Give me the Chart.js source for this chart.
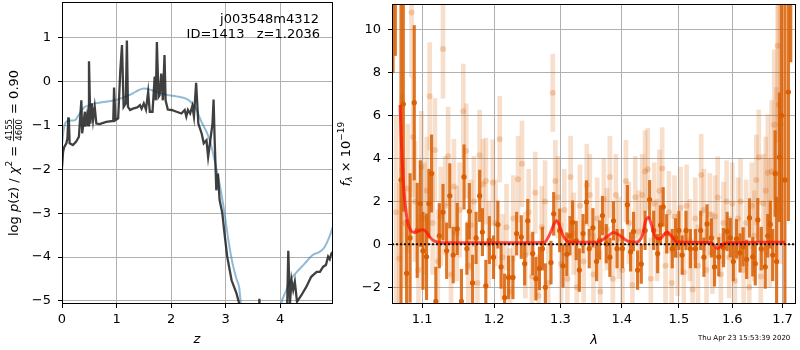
<!DOCTYPE html>
<html>
<head>
<meta charset="utf-8">
<script src="https://cdn.jsdelivr.net/npm/chart.js@4.4.1/dist/chart.umd.min.js"></script>
<style>
  html, body { margin: 0; padding: 0; background: #fff; }
  #wrap { position: relative; width: 800px; height: 350px; overflow: hidden; }
  #pzChart { position: absolute; left: 0; top: 0; }
  #specChart { position: absolute; left: 335px; top: 0; }
</style>
</head>
<body>
<div id="wrap">
  <canvas id="pzChart" width="335" height="350"></canvas>
  <canvas id="specChart" width="465" height="350"></canvas>
</div>
<script>
// ---- left panel: log p(z) and chi2 curve ----
const zTicks = [0, 1, 2, 3, 4];
const pzTicks = [-5, -4, -3, -2, -1, 0, 1];
const zRange = [0, 4.97];
const pzRange = [-5.07, 1.81];

const pzZ = [0.00, 0.02, 0.04, 0.08, 0.10, 0.115, 0.125, 0.14, 0.20, 0.26, 0.31, 0.355, 0.37, 0.42, 0.43, 0.46, 0.48, 0.495,
  0.52, 0.545, 0.57, 0.60, 0.63, 0.69, 0.81, 0.94, 0.955, 0.98, 1.03, 1.07, 1.10, 1.13, 1.17, 1.19, 1.21, 1.25, 1.30, 1.38,
  1.43, 1.46, 1.50, 1.54, 1.58, 1.61, 1.66, 1.70, 1.72, 1.74, 1.77, 1.79, 1.82, 1.85, 1.88, 1.90, 1.94, 2.01, 2.10, 2.19,
  2.25, 2.28, 2.31, 2.35, 2.39, 2.42, 2.46, 2.50, 2.56, 2.60, 2.65, 2.68, 2.72, 2.76, 2.78, 2.80, 2.83, 2.86, 2.89, 2.94,
  2.98, 3.03, 3.11, 3.20, 3.25, 3.30, 3.60, 3.62, 3.64, 4.10, 4.13, 4.15, 4.18, 4.21, 4.24, 4.27, 4.31, 4.39, 4.48, 4.57,
  4.67, 4.73, 4.79, 4.84, 4.88, 4.91, 4.94, 4.97];
const pzLog = [-1.95, -1.60, -1.50, -1.41, -1.30, -0.84, -0.82, -1.41, -1.45, -1.37, -1.26, -0.43, -1.18, -0.69, -1.03, -0.77, -1.00, 0.46,
  -0.96, -0.50, -0.88, -0.58, -0.96, -0.97, -0.92, -0.90, -0.14, -0.88, -0.84, 0.26, 0.83, -0.58, -0.50, 0.93, -0.58, -0.65, -0.62, -0.59,
  -0.54, -0.62, -0.50, -0.64, -0.24, -0.69, -0.69, 0.11, -0.43, 0.90, -0.35, -0.31, 0.18, -0.43, 0.60, -0.43, -0.64, -0.65, -0.69, -0.73,
  -0.65, -0.80, -0.65, -0.73, -0.56, -0.80, -0.03, -0.96, -1.18, -1.41, -1.34, -1.72, -1.34, -0.96, -0.41, -1.34, -2.48, -2.10, -2.70, -3.00,
  -3.46, -3.99, -4.53, -4.83, -5.06, -5.60, -5.60, -4.95, -5.60, -5.60, -5.10, -3.86, -5.06, -4.53, -4.75, -4.56, -5.02, -4.87, -4.68, -4.45,
  -4.34, -4.34, -4.22, -4.18, -3.99, -4.05, -3.92, -3.88];

const chiZ = [0.00, 0.03, 0.06, 0.10, 0.20, 0.25, 0.30, 0.40, 0.50, 0.60, 0.80, 1.00, 1.20, 1.30, 1.40, 1.50, 1.60, 1.70, 1.90,
  2.10, 2.25, 2.35, 2.45, 2.55, 2.70, 2.80, 2.90, 2.98, 3.05, 3.12, 3.20, 3.25, 3.29, 3.35, 3.95, 4.02, 4.10, 4.20, 4.30,
  4.45, 4.60, 4.70, 4.80, 4.90, 4.97];
const chiLog = [-1.45, -1.10, -0.95, -0.90, -0.89, -0.87, -0.78, -0.60, -0.54, -0.50, -0.46, -0.42, -0.33, -0.27, -0.20, -0.16, -0.18, -0.22, -0.30,
  -0.34, -0.38, -0.45, -0.60, -0.90, -1.30, -1.80, -2.40, -3.00, -3.60, -4.10, -4.50, -4.70, -5.20, -5.80, -5.80, -5.07, -4.80, -4.50, -4.35,
  -4.15, -3.95, -3.90, -3.80, -3.55, -3.30];

// ---- right panel: spectrum ----
const waveTicks = [1.1, 1.2, 1.3, 1.4, 1.5, 1.6, 1.7];
const fluxTicks = [-2, 0, 2, 4, 6, 8, 10];
const waveRange = [1.0606, 1.728];
const fluxRange = [-2.78, 11.2];

const darkWave = [1.0619, 1.0649, 1.0722, 1.0752, 1.0795, 1.0840, 1.0895, 1.0934, 1.0975, 1.1010, 1.1058, 1.1090, 1.1125, 1.1183,
  1.1230, 1.1280, 1.1330, 1.1373, 1.1420, 1.1475, 1.1534, 1.1570, 1.1610, 1.1645, 1.1690, 1.1740, 1.1791, 1.1830, 1.1879, 1.1930,
  1.1990, 1.2054, 1.2100, 1.2152, 1.2210, 1.2275, 1.2330, 1.2399, 1.2450, 1.2497, 1.2572, 1.2620, 1.2674, 1.2720, 1.2765, 1.2852,
  1.2894, 1.2988, 1.3040, 1.3100, 1.3150, 1.3192, 1.3250, 1.3300, 1.3360, 1.3416, 1.3460, 1.3520, 1.3580, 1.3630, 1.3677, 1.3740,
  1.3800, 1.3860, 1.3920, 1.4010, 1.4095, 1.4150, 1.4200, 1.4270, 1.4334, 1.4400, 1.4479, 1.4550, 1.4620, 1.4670, 1.4718, 1.4780,
  1.4880, 1.4940, 1.5000, 1.5060, 1.5130, 1.5210, 1.5304, 1.5400, 1.5460, 1.5519, 1.5600, 1.5660, 1.5740, 1.5830, 1.5900, 1.5961,
  1.6020, 1.6080, 1.6150, 1.6210, 1.6280, 1.6336, 1.6400, 1.6450, 1.6501, 1.6570, 1.6650, 1.6700, 1.6751, 1.6800, 1.6850, 1.6880,
  1.6938, 1.6980, 1.7050, 1.7122, 1.7170];
const darkFlux = [13.0, 14.0, 3.0, 6.54, -1.35, 0.3, 6.6, 0.65, 1.9, -0.3, -0.58, 1.9, 3.3, -2.66,
  0.4, 1.5, -0.3, 2.26, -0.5, 0.72, -2.66, 3.14, -0.2, 1.54, -1.8, 0.3, 2.26, 0.57, -1.94, 0.2,
  -0.6, 0.92, -1.05, -2.48, -1.54, -1.54, 0.5, 0.34, -0.9, 1.1, -0.43, -1.6, -1.12, -0.2, -2.0, -0.85,
  1.42, 0.65, -1.0, -0.46, 0.4, 1.03, 0.18, -1.2, 0.5, 1.97, -0.2, 0.77, -0.8, 0.2, 1.34, 0.03,
  -0.6, 1.1, -0.2, -0.2, 1.85, -0.35, 0.6, -1.2, -0.92, 0.65, 2.08, 0.65, -0.43, 0.9, 1.75, 0.49,
  -0.2, 0.3, 0.65, -0.5, 0.65, -0.2, -0.2, 0.65, -0.6, 0.95, 0.3, -1.05, -0.58, -0.15, 0.6, 0.31,
  -0.8, 0.26, -0.4, -0.12, -0.7, 1.23, -0.58, -0.9, 1.14, -0.2, -1.05, 0.4, 0.92, -0.5, 3.3, -0.8,
  4.06, 6.0, 3.0, 7.1, 14.0];
const darkErr = [5.0, 5.2, 9.0, 5.0, 2.5, 3.0, 3.6, 2.2, 2.0, 1.8, 2.0, 1.6, 1.8, 1.6,
  1.5, 1.3, 1.3, 1.5, 1.3, 1.2, 1.5, 1.5, 1.2, 1.3, 1.3, 1.2, 1.2, 1.1, 1.2, 1.1,
  1.0, 1.1, 1.0, 1.1, 1.0, 1.0, 1.0, 1.0, 1.0, 1.0, 1.0, 1.0, 1.0, 1.0, 1.1, 1.0,
  1.0, 1.0, 1.0, 1.0, 0.9, 1.0, 0.9, 1.0, 0.9, 1.0, 0.9, 0.9, 0.9, 0.9, 0.9, 0.9,
  0.9, 0.9, 0.9, 0.9, 0.9, 0.9, 0.9, 0.9, 0.9, 0.9, 0.9, 0.9, 0.9, 0.9, 0.9, 0.9,
  0.9, 0.9, 0.9, 0.9, 0.9, 0.9, 0.9, 0.9, 0.9, 0.9, 0.9, 0.9, 0.9, 0.9, 0.9, 0.9,
  0.9, 0.9, 0.9, 0.9, 0.9, 0.9, 0.9, 1.0, 1.0, 1.0, 1.0, 1.0, 1.1, 1.2, 2.0, 3.0,
  3.0, 6.0, 12.0, 6.0, 5.5];

const lightWave = [1.0660, 1.0700, 1.0735, 1.0770, 1.0810, 1.0860, 1.0880, 1.0905, 1.0950, 1.0990, 1.1030, 1.1060, 1.1100, 1.1140,
  1.1170, 1.1210, 1.1250, 1.1280, 1.1310, 1.1350, 1.1390, 1.1430, 1.1470, 1.1510, 1.1560, 1.1600, 1.1630, 1.1670, 1.1710, 1.1760,
  1.1790, 1.1840, 1.1880, 1.1920, 1.1980, 1.2020, 1.2080, 1.2120, 1.2180, 1.2230, 1.2280, 1.2350, 1.2410, 1.2460, 1.2510, 1.2560,
  1.2610, 1.2660, 1.2710, 1.2760, 1.2810, 1.2880, 1.2920, 1.2960, 1.3010, 1.3060, 1.3110, 1.3160, 1.3210, 1.3260, 1.3310, 1.3370,
  1.3420, 1.3470, 1.3530, 1.3590, 1.3640, 1.3700, 1.3750, 1.3800, 1.3850, 1.3900, 1.3950, 1.4010, 1.4070, 1.4120, 1.4180, 1.4230,
  1.4290, 1.4350, 1.4400, 1.4447, 1.4500, 1.4560, 1.4610, 1.4650, 1.4700, 1.4760, 1.4820, 1.4870, 1.4920, 1.4980, 1.5030, 1.5090,
  1.5140, 1.5200, 1.5250, 1.5300, 1.5350, 1.5410, 1.5460, 1.5510, 1.5570, 1.5620, 1.5670, 1.5720, 1.5780, 1.5830, 1.5890, 1.5940,
  1.6000, 1.6050, 1.6110, 1.6160, 1.6220, 1.6270, 1.6330, 1.6380, 1.6430, 1.6470, 1.6520, 1.6560, 1.6610, 1.6660, 1.6700, 1.6740,
  1.6780, 1.6830, 1.6870, 1.6900, 1.6920, 1.6960];
const lightFlux = [1.5, -0.66, 3.5, 1.0, 2.6, 10.8, 5.0, 2.0, -1.2, 3.6, 1.2, 2.5, 6.9, 1.0,
  4.4, -0.8, 1.3, 9.1, 1.8, 4.1, -1.4, 2.7, 0.5, 1.6, 6.2, 4.35, -1.0, 0.9, 2.0, -1.8,
  4.15, 2.8, 2.95, 0.0, 2.88, 1.0, 4.9, -0.6, 0.8, -2.2, 1.2, 3.03, 3.75, -0.5, 1.5, -1.5,
  2.4, -2.4, 0.8, 2.0, -1.8, 7.06, 2.95, 2.2, -0.9, 1.6, -1.6, 3.14, 0.5, -2.0, 1.8, -0.8,
  2.77, 2.3, -1.4, 1.2, -2.2, 2.1, 0.7, 3.14, -1.6, 2.3, 0.3, -1.2, 2.95, 1.0, -1.9, 2.2,
  0.6, 2.3, 3.4, 3.5, -1.6, 1.9, 0.2, 2.5, 3.54, -1.0, 1.5, -1.8, 1.3, -0.5, 1.7, -1.3,
  1.8, 0.2, -2.1, 1.2, -1.0, 3.23, 1.6, -1.2, 1.4, -0.4, 1.3, 2.18, -1.4, 1.0, 2.0, -0.6,
  1.9, -1.7, 1.2, 2.0, -1.2, 1.0, -2.0, 1.8, 0.4, 3.0, 4.06, -1.5, 1.9, 2.5, 3.34, 1.0,
  3.4, 5.57, 3.3, 9.26, 6.5, 5.6];
const lightErr = [4.5, 3.5, 3.5, 3.0, 3.0, 3.0, 2.8, 2.8, 2.6, 2.6, 2.6, 2.5, 2.5, 2.4,
  2.4, 2.4, 2.3, 2.3, 2.3, 2.3, 2.2, 2.2, 2.2, 2.2, 2.2, 2.2, 2.1, 2.1, 2.1, 2.1,
  2.1, 2.1, 2.0, 2.0, 2.0, 2.0, 2.0, 2.0, 2.0, 2.0, 2.0, 2.0, 2.0, 2.0, 2.0, 2.0,
  1.9, 1.9, 1.9, 1.9, 1.9, 1.8, 1.9, 1.9, 1.9, 1.9, 1.9, 1.9, 1.9, 1.9, 1.9, 1.9,
  1.9, 1.9, 1.9, 1.9, 1.9, 1.9, 1.9, 1.9, 1.9, 1.9, 1.9, 1.9, 1.9, 1.9, 1.9, 1.9,
  1.9, 1.9, 1.9, 1.9, 1.9, 1.9, 1.9, 1.9, 1.9, 1.9, 1.9, 1.9, 1.9, 1.9, 1.9, 1.9,
  1.9, 1.9, 1.9, 1.9, 1.9, 1.9, 1.9, 1.9, 1.9, 1.9, 1.9, 1.9, 1.9, 1.9, 1.9, 1.9,
  1.9, 1.9, 1.9, 2.0, 2.0, 2.0, 2.0, 2.0, 2.1, 2.1, 2.2, 2.2, 2.3, 2.5, 2.7, 3.0,
  3.3, 3.5, 4.0, 4.5, 5.0, 6.5];

const modelWave = [1.071, 1.073, 1.076, 1.080, 1.085, 1.090, 1.095, 1.100, 1.105, 1.110, 1.115, 1.125, 1.150, 1.200, 1.250,
  1.275, 1.283, 1.290, 1.294, 1.298, 1.305, 1.315, 1.360, 1.375, 1.386, 1.395, 1.410, 1.425, 1.435, 1.441, 1.446, 1.450,
  1.458, 1.466, 1.473, 1.479, 1.486, 1.495, 1.510, 1.560, 1.565, 1.572, 1.578, 1.585, 1.600, 1.650, 1.705];
const modelFlux = [6.5, 4.5, 2.5, 1.2, 0.65, 0.55, 0.62, 0.68, 0.6, 0.35, 0.18, 0.08, 0.07, 0.08, 0.08,
  0.1, 0.45, 0.95, 1.1, 0.9, 0.35, 0.1, 0.1, 0.35, 0.55, 0.45, 0.15, 0.1, 0.4, 1.1, 1.25, 1.0,
  0.35, 0.25, 0.45, 0.58, 0.4, 0.12, 0.1, 0.08, -0.05, -0.2, -0.1, 0.05, 0.08, 0.1, 0.1];

const FONT = "'DejaVu Sans', sans-serif";
Chart.defaults.font.family = FONT;
Chart.defaults.font.size = 13;
Chart.defaults.color = "#000";
Chart.defaults.animation = false;

const ORANGE = "rgba(217,95,2,0.85)";
const ORANGE_LIGHT = "rgba(217,95,2,0.2)";

function fixBox(size) {
  return (scale) => {
    if (scale.isHorizontal()) scale.height = size; else scale.width = size;
    scale.paddingTop = 0;
    scale.paddingBottom = 0;
    scale.paddingLeft = 0;
    scale.paddingRight = 0;
  };
}

function setTicks(values) {
  return (scale) => { scale.ticks = values.map((value) => ({ value })); };
}

function minusLabel(value) {
  return value < 0 ? "\u2212" + Math.abs(value) : String(value);
}

const gridStyle = { color: "#b0b0b0", lineWidth: 1, tickColor: "#000", tickLength: 4, drawTicks: true };

const frame = {
  id: "frame",
  afterDatasetsDraw(chart) {
    const { ctx, chartArea: a } = chart;
    ctx.save();
    ctx.strokeStyle = "#000";
    ctx.lineWidth = 1;
    ctx.strokeRect(a.left + 0.5, a.top + 0.5, a.right - a.left - 1, a.bottom - a.top - 1);
    ctx.restore();
  }
};

// draw a label made of pieces (normal / italic / sup / sub / fraction)
function drawPieces(ctx, x, y, angle, pieces) {
  ctx.save();
  ctx.translate(x, y);
  ctx.rotate(angle);
  ctx.fillStyle = "#000";
  ctx.textBaseline = "alphabetic";
  let total = 0;
  pieces.forEach((p) => {
    ctx.font = p.font;
    p.w = p.frac
      ? Math.max(ctx.measureText(p.frac[0]).width, ctx.measureText(p.frac[1]).width) + 2
      : ctx.measureText(p.text).width;
    total += p.w;
  });
  let cx = -total / 2;
  const base = 4.7;
  pieces.forEach((p) => {
    ctx.font = p.font;
    if (p.frac) {
      ctx.textAlign = "center";
      ctx.fillText(p.frac[0], cx + p.w / 2, base - 6);
      ctx.fillText(p.frac[1], cx + p.w / 2, base + 3.8);
      ctx.fillRect(cx + 0.5, base - 4.6, p.w - 1, 0.8);
    } else {
      ctx.textAlign = "left";
      ctx.fillText(p.text, cx, base + (p.dy || 0));
    }
    cx += p.w;
  });
  ctx.restore();
}

const pzLabels = {
  id: "pzLabels",
  afterDraw(chart) {
    const ctx = chart.ctx;
    ctx.save();
    ctx.fillStyle = "#000";
    ctx.font = "13px " + FONT;
    ctx.textAlign = "right";
    ctx.textBaseline = "middle";
    ctx.fillText("j003548m4312", 319, 20);
    ctx.fillText("ID=1413   z=1.2036", 320, 34.5);
    ctx.textAlign = "center";
    ctx.font = "italic 13px " + FONT;
    ctx.fillText("z", 197, 340);
    ctx.restore();
    drawPieces(ctx, 13, 153, -Math.PI / 2, [
      { text: "log ", font: "13px " + FONT },
      { text: "p", font: "italic 13px " + FONT },
      { text: "(z) / ", font: "13px " + FONT },
      { text: "\u03c7", font: "italic 13px " + FONT },
      { text: "2", font: "9px " + FONT, dy: -5.5 },
      { text: " = ", font: "13px " + FONT },
      { frac: ["4155", "4600"], font: "8.5px " + FONT },
      { text: " = 0.90", font: "13px " + FONT }
    ]);
  }
};

const specLabels = {
  id: "specLabels",
  afterDraw(chart) {
    const ctx = chart.ctx;
    ctx.save();
    ctx.fillStyle = "#000";
    ctx.font = "italic 13px " + FONT;
    ctx.textAlign = "center";
    ctx.textBaseline = "middle";
    ctx.fillText("\u03bb", 259, 341);
    ctx.font = "7px " + FONT;
    ctx.textAlign = "left";
    ctx.fillText("Thu Apr 23 15:53:39 2020", 363, 338);
    ctx.restore();
    drawPieces(ctx, 10, 154, -Math.PI / 2, [
      { text: "f", font: "italic 13px " + FONT },
      { text: "\u03bb", font: "italic 9px " + FONT, dy: 2.5 },
      { text: " \u00d7 10", font: "13px " + FONT },
      { text: "\u221219", font: "9px " + FONT, dy: -5.5 }
    ]);
  }
};

new Chart(document.getElementById("pzChart"), {
  type: "line",
  data: {
    datasets: [
      {
        data: pzZ.map((x, i) => ({ x, y: pzLog[i] })),
        borderColor: "rgba(30,30,30,0.85)",
        borderWidth: 2.3,
        pointRadius: 0,
        clip: 0,
        order: 0
      },
      {
        data: chiZ.map((x, i) => ({ x, y: chiLog[i] })),
        borderColor: "rgba(31,119,180,0.5)",
        borderWidth: 2,
        pointRadius: 0,
        cubicInterpolationMode: "monotone",
        clip: 0,
        order: 1
      }
    ]
  },
  options: {
    responsive: false,
    layout: { padding: { top: 2, right: 2, left: 0, bottom: 0 } },
    plugins: { legend: { display: false }, tooltip: { enabled: false } },
    scales: {
      x: {
        type: "linear",
        min: zRange[0],
        max: zRange[1],
        bounds: "data",
        grid: gridStyle,
        border: { display: false },
        ticks: { padding: 4, autoSkip: false, maxRotation: 0, callback: (v) => minusLabel(v) },
        afterBuildTicks: setTicks(zTicks),
        afterFit: fixBox(46)
      },
      y: {
        type: "linear",
        min: pzRange[0],
        max: pzRange[1],
        bounds: "data",
        grid: gridStyle,
        border: { display: false },
        ticks: { padding: 7, autoSkip: false, callback: (v) => minusLabel(v) },
        afterBuildTicks: setTicks(pzTicks),
        afterFit: fixBox(62)
      }
    }
  },
  plugins: [frame, pzLabels]
});

new Chart(document.getElementById("specChart"), {
  type: "bar",
  data: {
    datasets: [
      {
        type: "line",
        data: [{ x: waveRange[0], y: 0 }, { x: waveRange[1], y: 0 }],
        borderColor: "#111",
        borderWidth: 2,
        borderDash: [2, 2],
        pointRadius: 0,
        clip: 0,
        order: 0
      },
      {
        type: "line",
        data: modelWave.map((x, i) => ({ x, y: modelFlux[i] })),
        borderColor: "rgba(255,20,10,0.75)",
        borderWidth: 3,
        pointRadius: 0,
        cubicInterpolationMode: "monotone",
        clip: 0,
        order: 1
      },
      {
        type: "scatter",
        data: darkWave.map((x, i) => ({ x, y: darkFlux[i] })),
        pointRadius: 2.6,
        pointBackgroundColor: "rgb(217,95,2)",
        pointBorderWidth: 0,
        clip: 0,
        order: 2
      },
      {
        type: "bar",
        data: darkWave.map((x, i) => ({ x, y: [darkFlux[i] - darkErr[i], darkFlux[i] + darkErr[i]] })),
        backgroundColor: ORANGE,
        barThickness: 2.5,
        grouped: false,
        clip: 0,
        order: 3
      },
      {
        type: "scatter",
        data: lightWave.map((x, i) => ({ x, y: lightFlux[i] })),
        pointRadius: 3,
        pointBackgroundColor: "rgba(217,95,2,0.25)",
        pointBorderWidth: 0,
        clip: 0,
        order: 4
      },
      {
        type: "bar",
        data: lightWave.map((x, i) => ({ x, y: [lightFlux[i] - lightErr[i], lightFlux[i] + lightErr[i]] })),
        backgroundColor: ORANGE_LIGHT,
        barThickness: 4,
        grouped: false,
        clip: 0,
        order: 5
      }
    ]
  },
  options: {
    responsive: false,
    layout: { padding: { top: 2, right: 2, left: 0, bottom: 0 } },
    plugins: { legend: { display: false }, tooltip: { enabled: false } },
    scales: {
      x: {
        type: "logarithmic",
        min: waveRange[0],
        max: waveRange[1],
        bounds: "data",
        offset: false,
        grid: { ...gridStyle, offset: false },
        border: { display: false },
        ticks: { padding: 4, autoSkip: false, maxRotation: 0, callback: (v) => Number(v).toFixed(1) },
        afterBuildTicks: setTicks(waveTicks),
        afterFit: fixBox(46)
      },
      y: {
        type: "linear",
        min: fluxRange[0],
        max: fluxRange[1],
        bounds: "data",
        grid: gridStyle,
        border: { display: false },
        ticks: { padding: 7, autoSkip: false, callback: (v) => minusLabel(v) },
        afterBuildTicks: setTicks(fluxTicks),
        afterFit: fixBox(57)
      }
    }
  },
  plugins: [frame, specLabels]
});
</script>
</body>
</html>
